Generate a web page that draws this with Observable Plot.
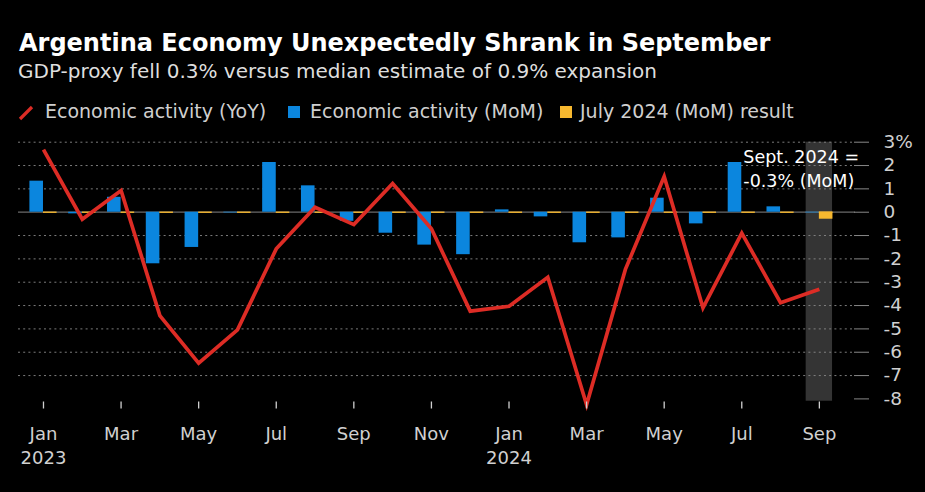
<!DOCTYPE html>
<html>
<head>
<meta charset="utf-8">
<script src="https://cdn.jsdelivr.net/npm/d3@7"></script>
<script src="https://cdn.jsdelivr.net/npm/@observablehq/plot@0.6"></script>
<style>
  html, body { margin: 0; padding: 0; background: #000; }
  body { width: 925px; height: 492px; position: relative; overflow: hidden; font-family: "DejaVu Sans", sans-serif; }
  .abs { position: absolute; white-space: nowrap; line-height: 1; }
  #title { left: 19px; top: 30.7px; font-size: 24px; font-weight: bold; color: #fff; }
  #subtitle { left: 18px; top: 61px; font-size: 20px; color: #dedede; }
  .leg { top: 102px; font-size: 19px; color: #cfcfcf; }
  .sw { position: absolute; width: 12px; height: 12px; top: 106px; }
  #chart { position: absolute; left: 0; top: 130px; }
</style>
</head>
<body>
<div id="title" class="abs">Argentina Economy Unexpectedly Shrank in September</div>
<div id="subtitle" class="abs">GDP-proxy fell 0.3% versus median estimate of 0.9% expansion</div>
<svg class="abs" style="left:18px;top:104px" width="16" height="18"><line x1="2" y1="15" x2="14" y2="3" stroke="#dd2c25" stroke-width="3.2"/></svg>
<div class="abs leg" style="left:45px">Economic activity (YoY)</div>
<div class="sw" style="left:288px;background:#0b86de"></div>
<div class="abs leg" style="left:310px">Economic activity (MoM)</div>
<div class="sw" style="left:560px;background:#f7b82f"></div>
<div class="abs leg" style="left:580px">July 2024 (MoM) result</div>
<div id="chart"></div>
<script>
// ---- data ----
const months = ["2023-01","2023-02","2023-03","2023-04","2023-05","2023-06","2023-07","2023-08","2023-09","2023-10","2023-11","2023-12",
                "2024-01","2024-02","2024-03","2024-04","2024-05","2024-06","2024-07","2024-08","2024-09"];
const yoy = [2.68, -0.30, 0.93, -4.43, -6.47, -5.04, -1.57, 0.21, -0.53, 1.23, -0.71, -4.24,
             -4.03, -2.79, -8.25, -2.45, 1.53, -4.10, -0.90, -3.88, -3.30];
const mom = [1.33, -0.07, 0.64, -2.21, -1.51, -0.03, 2.13, 1.13, -0.39, -0.90, -1.41, -1.82,
             0.10, -0.20, -1.31, -1.10, 0.60, -0.50, 2.13, 0.23, -0.03];
const julyResult = [0,0,0,0,0,0,0,0,0,0,0,0, 0,0,0,0,0,0,0,0,-0.3];
const xTickMonths = ["2023-01","2023-03","2023-05","2023-07","2023-09","2023-11","2024-01","2024-03","2024-05","2024-07","2024-09"];
const xTickLabels = ["Jan\n2023","Mar","May","Jul","Sep","Nov","Jan\n2024","Mar","May","Jul","Sep"];
const yTicks = [3, 2, 1, 0, -1, -2, -3, -4, -5, -6, -7, -8];
const yTickLabels = ["3%", "2", "1", "0", "-1", "-2", "-3", "-4", "-5", "-6", "-7", "-8"];
const highlight = [{month: "2024-09", from: -8.1, to: 3}];
const annotation = [{month: "2024-09", y: 3, text: "Sept. 2024 =\n-0.3% (MoM)"}];

// ---- build table ----
const idx = m => months.indexOf(m);
const data = months.map((m, i) => ({i, month: m, yoy: yoy[i], mom: mom[i], july: julyResult[i]}));
const gridVals = yTicks.filter(v => v !== 0 && v !== -8);
const BW = 0.35;
const RED = "#dd2c25", BLUE = "#0b86de", YEL = "#f7b82f";

const chart = Plot.plot({
  width: 925,
  height: 362,
  marginLeft: 18,
  marginRight: 72,
  marginTop: 11.7,
  marginBottom: 93.6,
  style: {background: "transparent", fontFamily: "DejaVu Sans, sans-serif", color: "#cfcfcf", overflow: "visible"},
  x: {type: "linear", domain: [-0.644, 20.88]},
  y: {domain: [-8, 3]},
  marks: [
    Plot.rect(highlight, {x1: d => idx(d.month) - 0.34, x2: d => idx(d.month) + 0.34, y1: "from", y2: "to", fill: "#343434"}),
    Plot.ruleY(gridVals, {stroke: "#8a8a8a", strokeWidth: 1, strokeDasharray: "2 3.2", strokeOpacity: 0.9}),
    Plot.ruleY([0], {x1: -0.644, x2: 20.93, stroke: "#6a6a6a", strokeWidth: 1.3}),
    Plot.rect(data, {x1: d => d.i - BW, x2: d => d.i, y1: 0, y2: "mom", fill: BLUE}),
    Plot.rect(data.filter(d => d.july !== 0), {x1: d => d.i, x2: d => d.i + BW, y1: 0, y2: "july", fill: YEL}),
    Plot.ruleY(data, {x1: "i", x2: d => d.i + BW, y: 0, stroke: YEL, strokeWidth: 1.4}),
    Plot.line(data, {x: "i", y: "yoy", stroke: RED, strokeWidth: 3.7, strokeLinejoin: "miter", strokeLinecap: "butt", strokeMiterlimit: 10}),
    Plot.text(annotation, {x: d => idx(d.month), y: "y", text: "text", textAnchor: "start", lineAnchor: "top", dx: -76, dy: 3, fontSize: 17.5, lineHeight: 1.4, fill: "#ffffff"}),
    Plot.axisY({anchor: "right", ticks: yTicks, tickFormat: d => yTickLabels[yTicks.indexOf(d)], tickSize: 17, tickPadding: 13, strokeDasharray: "15 2", stroke: "#888", fontSize: 18.5, fill: "#d0d0d0", label: null}),
    Plot.axisX({anchor: "bottom", ticks: xTickMonths.map(idx), tickFormat: d => xTickLabels[xTickMonths.map(idx).indexOf(d)], tickSize: 10, tickPadding: 13, strokeDasharray: "0 3 7", stroke: "#cfcfcf", strokeWidth: 1.3, fontSize: 18, lineHeight: 1.38, fill: "#d0d0d0", label: null})
  ]
});
document.getElementById("chart").appendChild(chart);
</script>
</body>
</html>
